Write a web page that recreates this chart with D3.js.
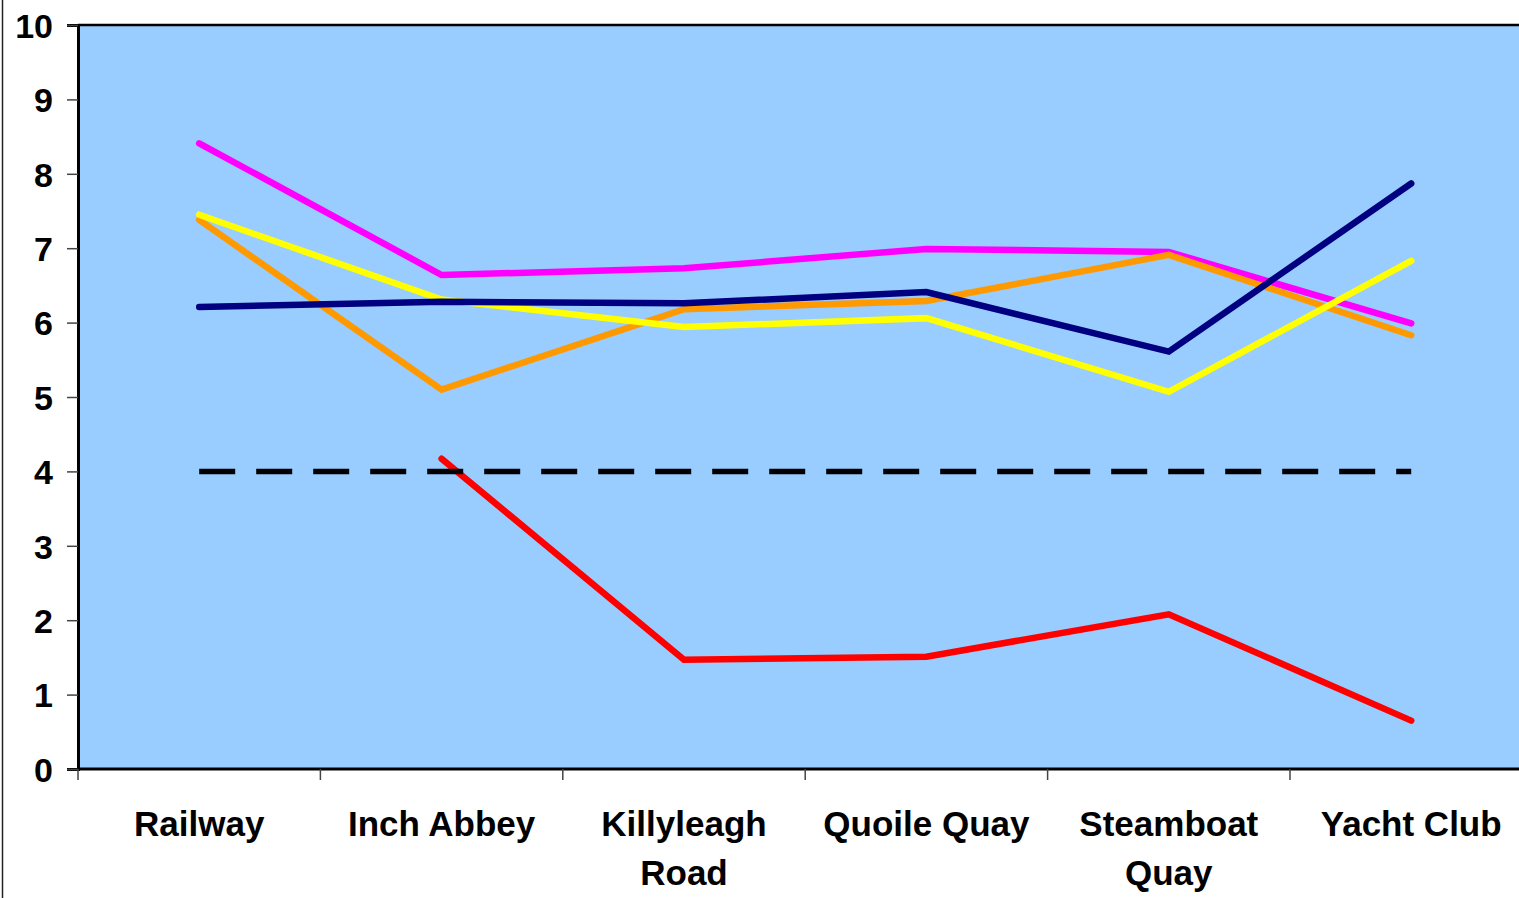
<!DOCTYPE html>
<html><head><meta charset="utf-8">
<script src="https://cdn.jsdelivr.net/npm/d3@7"></script>
<style>html,body{margin:0;padding:0;background:#fff;overflow:hidden}</style>
</head><body>
<svg id="chart" width="1519" height="898"></svg>
<script>
const categories = ["Railway", "Inch Abbey", "Killyleagh Road", "Quoile Quay", "Steamboat Quay", "Yacht Club"];
const categoryLines = [["Railway"], ["Inch Abbey"], ["Killyleagh", "Road"], ["Quoile Quay"], ["Steamboat", "Quay"], ["Yacht Club"]];
const magenta = [8.41, 6.64, 6.73, 6.99, 6.95, 5.99];
const orange  = [7.38, 5.10, 6.18, 6.29, 6.91, 5.83];
const yellow  = [7.45, 6.31, 5.94, 6.06, 5.07, 6.83];
const navy    = [6.21, 6.28, 6.26, 6.41, 5.61, 7.87];
const red     = [null, 4.17, 1.47, 1.51, 2.08, 0.65];
const threshold = [4, 4, 4, 4, 4, 4];
const yTicks = [0,1,2,3,4,5,6,7,8,9,10];

(function(){
const series = [
  {values: magenta, color: "#FF00FF"},
  {values: orange, color: "#FF9900"},
  {values: yellow, color: "#FFFF00"},
  {values: navy, color: "#000080"},
  {values: red, color: "#FF0000"}
];

const svg = d3.select("#chart");
const mLeft = 78, mTop = 25, mBottom = 769, mRight = 78 + 6*242.4;
const x = d3.scaleBand().domain(categories).range([mLeft, mRight]).padding(0);
const y = d3.scaleLinear().domain([0, 10]).range([mBottom, mTop]);
const cx = c => x(c) + x.bandwidth()/2;

svg.append("line").attr("x1",2.5).attr("x2",2.5).attr("y1",0).attr("y2",898)
  .attr("stroke","#222").attr("stroke-width",1.5);

svg.append("rect").attr("x",mLeft).attr("y",mTop).attr("width",mRight-mLeft).attr("height",mBottom-mTop)
  .attr("fill","#99CCFF");
svg.append("line").attr("x1",mLeft).attr("x2",mRight).attr("y1",mTop).attr("y2",mTop)
  .attr("stroke","#000").attr("stroke-width",2.5);

const line = d3.line().defined(d => d.v != null).x(d => cx(d.c)).y(d => y(d.v));

series.forEach(s => {
  svg.append("path")
    .datum(categories.map((c,i) => ({c, v: s.values[i]})))
    .attr("d", line).attr("fill","none").attr("stroke", s.color)
    .attr("stroke-width",6.5).attr("stroke-linecap","round").attr("stroke-linejoin","miter");
});

svg.append("path")
  .datum(categories.map((c,i) => ({c, v: threshold[i]})))
  .attr("d", line).attr("fill","none").attr("stroke","#000")
  .attr("stroke-width",5.5).attr("stroke-dasharray","36 21");

const yAxis = d3.axisLeft(y).tickValues(yTicks).tickSize(11).tickPadding(14).tickFormat(d3.format("d"));
const gy = svg.append("g").attr("transform",`translate(${mLeft},0)`).call(yAxis);
gy.select(".domain").attr("stroke","#000").attr("stroke-width",3);
gy.selectAll(".tick line").attr("stroke","#444").attr("stroke-width",1.5);
gy.selectAll(".tick text").attr("font-family","'Liberation Sans', Arial, sans-serif")
  .attr("font-weight","bold").attr("font-size",34).attr("fill","#000").attr("dy","0.36em");

const boundaries = categories.map(c => x(c)).concat([mRight]);
const gx = svg.append("g");
gx.append("line").attr("x1",mLeft).attr("x2",mRight).attr("y1",mBottom).attr("y2",mBottom)
  .attr("stroke","#000").attr("stroke-width",3);
gx.selectAll("line.tk").data(boundaries).enter().append("line").attr("class","tk")
  .attr("x1",d=>d).attr("x2",d=>d).attr("y1",mBottom).attr("y2",mBottom+11)
  .attr("stroke","#444").attr("stroke-width",1.5);

categories.forEach((c,i) => {
  const t = svg.append("text").attr("x", cx(c)).attr("y", 836)
    .attr("text-anchor","middle").attr("font-family","'Liberation Sans', Arial, sans-serif")
    .attr("font-weight","bold").attr("font-size",35).attr("fill","#000");
  categoryLines[i].forEach((ln,j) => {
    t.append("tspan").attr("x", cx(c)).attr("dy", j === 0 ? 0 : 49).text(ln);
  });
});
})();
</script>
</body></html>
